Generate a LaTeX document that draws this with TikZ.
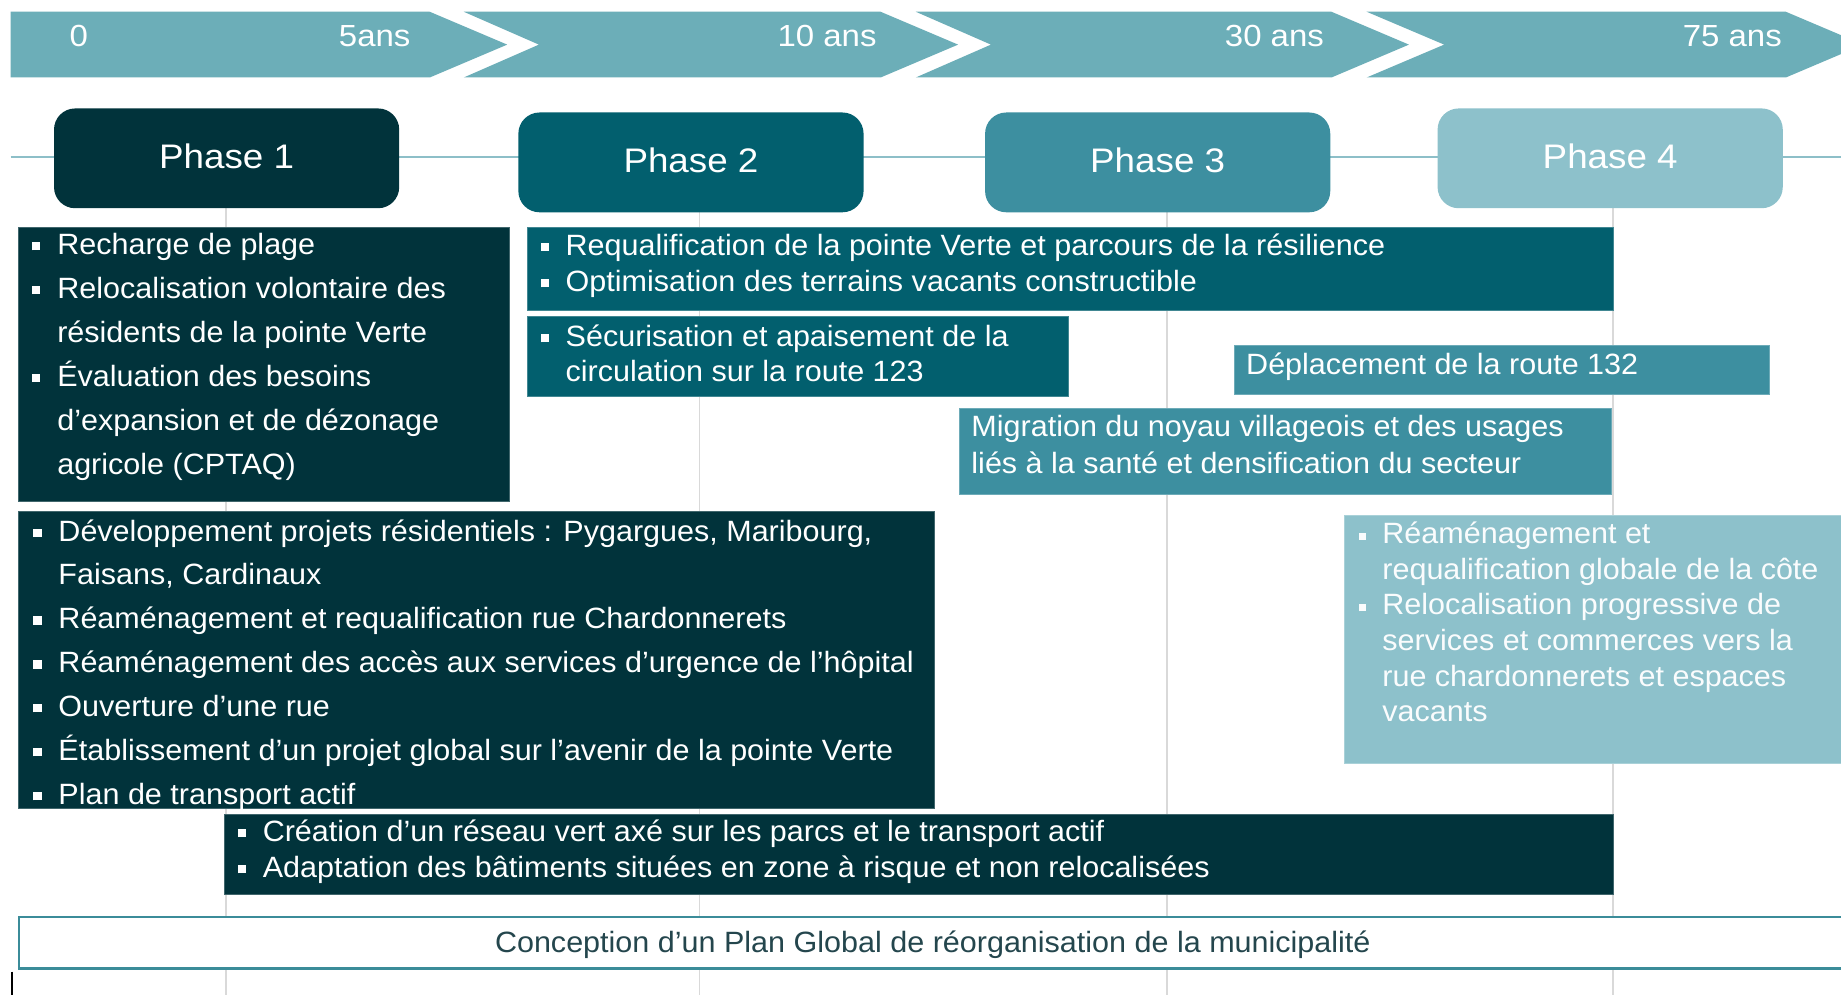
\documentclass[tikz,border=0pt]{standalone}
\usepackage{fontspec}
\setmainfont{Liberation Sans}[FakeStretch=1.04]
\newfontfamily\widefont{Liberation Sans}[FakeStretch=1.08]
\definecolor{cA}{HTML}{01333B}
\definecolor{cB}{HTML}{025F6E}
\definecolor{cC}{HTML}{3D8FA0}
\definecolor{cD}{HTML}{8DC1CB}
\definecolor{chev}{HTML}{6CAEB8}
\definecolor{hlc}{HTML}{8DBFC8}
\definecolor{gridc}{HTML}{D9D9D9}
\definecolor{planc}{HTML}{3B8C99}
\definecolor{plantxt}{HTML}{24464D}
\newcommand\bul{\makebox[10.7pt][l]{\rule[1.8pt]{3.5pt}{3.5pt}}}
\newcommand\bulb{\makebox[10pt][l]{\rule[1.4pt]{3pt}{3pt}}}
\newcommand\ind{\hspace*{10.7pt}}
\newcommand\indb{\hspace*{10pt}}
\newcommand\tbox[2]{\parbox[t]{700pt}{\fontsize{12.5}{#1}\selectfont #2}}
\tikzset{
  phasebox/.style={rounded corners=9pt, minimum width=147pt, minimum height=42.5pt,
    text=white, font=\widefont\fontsize{14.5}{17}\selectfont,
    text height=8.5pt, text depth=0pt, inner sep=0pt},
  chevlab/.style={text=white, font=\widefont\fontsize{13}{15}\selectfont, inner sep=0pt},
  itemtext/.style={anchor=base west, inner sep=0pt, text=white},
  gridline/.style={draw=gridc, line width=0.75pt},
  boxA/.style={fill=cA, draw=cA!75!white, line width=0.3pt},
  boxB/.style={fill=cB, draw=cB!75!white, line width=0.3pt},
  boxC/.style={fill=cC, draw=cC!75!white, line width=0.3pt},
  boxD/.style={fill=cD, draw=cD!75!white, line width=0.3pt},
}
\begin{document}
\begin{tikzpicture}[x=0.5pt,y=-0.5pt]
\useasboundingbox (0,0) rectangle (1568,847.4);
\clip (0,0) rectangle (1568,847.4);
\fill[white] (0,0) rectangle (1568,847.4);

% timeline chevrons
\fill[chev] (9,10) -- (366,10) -- (432,38) -- (366,66) -- (9,66) -- cycle;
\fill[chev] (395,10) -- (750,10) -- (816,38) -- (750,66) -- (395,66) -- (459,38) -- cycle;
\fill[chev] (780,10) -- (1134,10) -- (1200,38) -- (1134,66) -- (780,66) -- (844,38) -- cycle;
\fill[chev] (1164,10) -- (1521,10) -- (1587,38) -- (1521,66) -- (1164,66) -- (1230,38) -- cycle;
\node[chevlab, anchor=base west] (y0) at (59,39.8) {0};
\node[chevlab, anchor=base east] (y5) at (350,39.8) {5ans};
\node[chevlab, anchor=base east] (y10) at (747,39.8) {10 ans};
\node[chevlab, anchor=base east] (y30) at (1128,39.8) {30 ans};
\node[chevlab, anchor=base east] (y75) at (1518,39.8) {75 ans};

% grid lines
\draw[gridline] (192.5,177) -- (192.5,847.4);
\draw[gridline] (595.8,180) -- (595.8,847.4);
\draw[gridline] (993.7,180) -- (993.7,847.4);
\draw[gridline] (1373.5,177) -- (1373.5,847.4);

% horizontal phase line
\draw[hlc, line width=0.85pt] (9,134) -- (1568,134);

% phase boxes
\node[phasebox, fill=cA] (p1) at (193,134.85) {Phase 1};
\node[phasebox, fill=cB] (p2) at (588.5,138.3) {Phase 2};
\node[phasebox, fill=cC] (p3) at (986,138.3) {Phase 3};
\node[phasebox, fill=cD] (p4) at (1371.4,134.85) {Phase 4};

% Phase 1 box
\path[boxA] (16,194) rectangle (434,427);
\node[itemtext] (t1) at (27,216.8) {\tbox{18.7pt}{%
\bul Recharge de plage\\
\bul Relocalisation volontaire des\\
\ind résidents de la pointe Verte\\
\bul Évaluation des besoins\\
\ind d’expansion et de dézonage\\
\ind agricole (CPTAQ)}};

% Phase 2 boxes
\path[boxB] (449,194) rectangle (1374,264.6);
\node[itemtext] (t2) at (460,217.2) {\tbox{15.6pt}{%
\bul Requalification de la pointe Verte et parcours de la résilience\\
\bul Optimisation des terrains vacants constructible}};

\path[boxB] (449,269.7) rectangle (909.8,337.9);
\node[itemtext] (t3) at (460,295.3) {\tbox{14.9pt}{%
\bul Sécurisation et apaisement de la\\
\ind circulation sur la route 123}};

% Phase 3 boxes
\path[boxC] (1051,294) rectangle (1507,336);
\node[itemtext] (t4) at (1061,319) {\fontsize{12.5}{15}\selectfont Déplacement de la route 132};

\path[boxC] (817.4,347.8) rectangle (1372,420.7);
\node[itemtext] (t5) at (827,372) {\tbox{15.6pt}{%
Migration du noyau villageois et des usages\\
liés à la santé et densification du secteur}};

% Phase 1 large box
\path[boxA] (15.5,435.8) rectangle (796,688.4);
\node[itemtext] (t6) at (28,460.8) {\tbox{18.7pt}{%
\bul Développement projets résidentiels : Pygargues, Maribourg,\\
\ind Faisans, Cardinaux\\
\bul Réaménagement et requalification rue Chardonnerets\\
\bul Réaménagement des accès aux services d’urgence de l’hôpital\\
\bul Ouverture d’une rue\\
\bul Établissement d’un projet global sur l’avenir de la pointe Verte\\
\bul Plan de transport actif}};

% Phase 4 box
\path[boxD] (1145,438.6) rectangle (1600,650);
\node[itemtext, text=white!96!cD] (t8) at (1157,462.8) {\tbox{15.2pt}{%
\bulb Réaménagement et\\
\indb requalification globale de la côte\\
\bulb Relocalisation progressive de\\
\indb services et commerces vers la\\
\indb rue chardonnerets et espaces\\
\indb vacants}};

% long dark box
\path[boxA] (191,694) rectangle (1374,761.5);
\node[itemtext] (t7) at (202,716.5) {\tbox{15.5pt}{%
\bul Création d’un réseau vert axé sur les parcs et le transport actif\\
\bul Adaptation des bâtiments situées en zone à risque et non relocalisées}};

% global plan box
\path[fill=white, draw=planc, line width=1pt] (16,781) rectangle (1600,825);
\node[anchor=base, inner sep=0pt, text=plantxt, font=\fontsize{12.5}{15}\selectfont] (t9) at (794.5,811.5)
  {Conception d’un Plan Global de réorganisation de la municipalité};

% cursor mark
\draw[black, line width=0.7pt] (10,827.6) -- (10,847.4);
\end{tikzpicture}
\end{document}
